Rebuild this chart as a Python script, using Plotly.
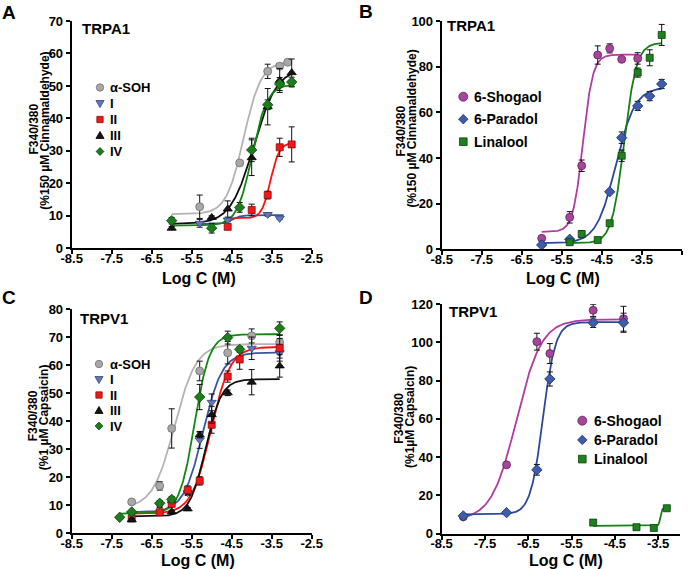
import numpy as np
import plotly.graph_objects as go

W, H = 691, 569
FONT = "Liberation Sans, Arial, sans-serif"

# ---------------- panel A : TRPA1 (alpha-SOH and I-IV)
a_names = ["α-SOH", "I", "II", "III", "IV"]
a_x = [
    [-5.3, -4.3, -3.6, -3.3, -3.1],
    [-5.3, -4.6, -3.6, -3.3],
    [-4.6, -4.0, -3.6, -3.3, -3.0],
    [-6.0, -5.0, -4.6, -4.0, -3.6, -3.3, -3.0],
    [-6.0, -5.0, -4.3, -4.0, -3.6, -3.3, -3.0],
]
a_y = [
    [12.8, 26.3, 54.5, 56.1, 57.3],
    [7.7, 8.7, 10.4, 9.2],
    [6.6, 11.8, 16.4, 31.1, 32.0],
    [6.2, 9.5, 12.1, 27.9, 43.6, 51.7, 54.1],
    [8.5, 6.2, 12.6, 30.3, 44.2, 50.6, 51.2],
]
a_err = [
    [3.6, 0.4, 2.2, 0.8, 0.4],
    [1.2, 0.5, 0.5, 0.3],
    [0.5, 1.8, 1.2, 2.8, 5.4],
    [0.5, 0.5, 2.5, 5.5, 5.6, 3.7, 4.2],
    [1.0, 1.5, 1.5, 3.6, 1.5, 2.0, 1.5],
]
# fitted sigmoid: bottom, top, logEC50, hill slope, first and last log C
a_fit = [
    [10.5, 57.5, -4.20, 2.0, -6.0, -3.1],
    [7.4, 10.2, -4.50, 4.0, -5.3, -3.2],
    [9.2, 32.5, -3.53, 4.0, -4.6, -3.0],
    [7.5, 55.5, -3.95, 1.5, -6.0, -3.0],
    [7.0, 50.5, -3.99, 2.3, -6.0, -3.0],
]

# ---------------- panel B : TRPA1 (gingerols / linalool)
b_names = ["6-Shogaol", "6-Paradol", "Linalool"]
b_x = [
    [-6.0, -5.3, -5.0, -4.6, -4.3, -4.0, -3.6],
    [-6.0, -5.3, -4.3, -4.0, -3.6, -3.3, -3.0],
    [-5.3, -5.0, -4.6, -4.3, -4.0, -3.6, -3.3, -3.0],
]
b_y = [
    [4.8, 14.0, 36.6, 85.1, 88.0, 83.2, 83.6],
    [1.9, 4.4, 25.2, 48.9, 62.8, 67.1, 72.4],
    [3.1, 6.7, 4.1, 11.4, 41.0, 77.4, 83.9, 93.9],
]
b_err = [
    [0.5, 2.5, 2.5, 4.0, 2.0, 0.5, 2.5],
    [0.3, 0.5, 0.5, 2.5, 2.0, 2.0, 2.0],
    [0.5, 1.5, 0.5, 0.8, 2.5, 2.0, 3.5, 4.6],
]
b_fit = [
    [7.6, 85.3, -4.97, 3.5, -6.0, -3.6],
    [2.7, 71.0, -4.15, 1.8, -6.0, -3.0],
    [2.7, 90.5, -3.94, 2.8, -5.3, -3.0],
]

# ---------------- panel C : TRPV1 (alpha-SOH and I-IV)
c_names = a_names
c_x = [
    [-7.0, -6.3, -6.0, -5.3, -4.6, -4.0, -3.3],
    [-7.0, -6.3, -6.0, -5.6, -5.3, -5.0, -4.0, -3.3],
    [-7.0, -6.3, -6.0, -5.6, -5.3, -5.0, -4.6, -4.3, -3.3],
    [-7.0, -6.0, -5.6, -5.3, -5.0, -4.6, -4.0, -3.3],
    [-7.3, -7.0, -6.3, -6.0, -5.3, -4.6, -4.3, -3.3],
]
c_y = [
    [11.2, 16.9, 37.4, 57.9, 64.4, 70.4, 68.1],
    [7.0, 10.2, 10.5, 14.5, 33.3, 46.7, 66.0, 64.4],
    [5.3, 7.5, 10.5, 15.4, 18.7, 38.7, 55.9, 62.0, 66.0],
    [4.8, 7.7, 8.7, 35.1, 42.3, 50.1, 53.9, 59.7],
    [5.7, 7.6, 10.7, 12.1, 48.6, 69.8, 65.6, 73.1],
]
c_err = [
    [0.5, 1.5, 7.0, 3.5, 4.0, 2.5, 2.5],
    [0.5, 1.0, 1.0, 1.0, 3.0, 3.0, 4.0, 3.0],
    [0.5, 1.0, 1.0, 1.5, 1.5, 3.0, 2.0, 3.5, 3.5],
    [0.5, 0.5, 0.5, 1.0, 3.0, 1.0, 4.5, 4.0],
    [0.3, 0.5, 1.0, 1.0, 4.5, 2.3, 1.0, 2.3],
]
c_fit = [
    [9.0, 67.5, -5.93, 1.6, -7.0, -3.3],
    [7.5, 64.5, -5.22, 1.8, -7.0, -3.3],
    [7.0, 66.5, -5.02, 1.8, -7.0, -3.3],
    [6.0, 55.0, -5.15, 2.2, -7.0, -3.3],
    [7.0, 71.0, -5.43, 2.3, -7.3, -3.3],
]

# ---------------- panel D : TRPV1 (gingerols / linalool)
d_names = b_names
d_x = [
    [-8.0, -7.0, -6.3, -6.0, -5.0, -4.3],
    [-8.0, -7.0, -6.3, -6.0, -5.0, -4.3],
    [-5.0, -4.0, -3.6, -3.3],
]
d_y = [
    [8.7, 35.9, 100.3, 94.1, 116.7, 112.3],
    [9.2, 10.9, 33.3, 80.8, 110.2, 110.2],
    [5.7, 3.3, 2.9, 13.2],
]
d_err = [
    [0.5, 0.5, 4.4, 5.2, 3.2, 6.5],
    [0.5, 0.5, 2.8, 3.7, 2.5, 5.0],
    [0.0, 0.0, 0.0, 0.0],
]
d_fit = [
    [7.0, 112.0, -6.77, 1.5, -8.0, -4.3],
    [10.0, 110.5, -6.16, 3.0, -8.0, -4.3],
    [4.0, 13.2, -3.45, 25.0, -5.0, -3.3],
]

# styles: marker symbol, fill, outline, curve colour
style_5 = [
    ("circle", "#a8a8a8", "#6e6e6e", "#b4b4b4"),
    ("triangle-down", "#6478b8", "#34457a", "#3b55a0"),
    ("square", "#f01818", "#8a0a0a", "#ff1010"),
    ("triangle-up", "#141414", "#000000", "#101010"),
    ("diamond", "#1d7d1d", "#0b400b", "#118811"),
]
style_3 = [
    ("circle", "#a5459b", "#5e2258", "#b03ca2"),
    ("diamond", "#3d5cab", "#1c2f63", "#2c4898"),
    ("square", "#1f801f", "#0b400b", "#168016"),
]


def hill(x, bottom, top, logec50, slope):
    return bottom + (top - bottom) / (1 + 10 ** ((logec50 - x) * slope))


def dom_x(l, r):
    return [l / W, r / W]


def dom_y(t, b):
    return [1 - b / H, 1 - t / H]


fig = go.Figure()

panels = [
    # axis suffix, names, x, y, err, fit, style, x px, y px, y range, dtick, x range
    ("", a_names, a_x, a_y, a_err, a_fit, style_5, (71.7, 311.7), (21, 248.3), [0, 70], 10, [-8.5, -2.5]),
    ("2", b_names, b_x, b_y, b_err, b_fit, style_3, (441.7, 681.7), (21, 249.3), [0, 100], 20, [-8.5, -2.5]),
    ("3", c_names, c_x, c_y, c_err, c_fit, style_5, (71.7, 311.7), (309, 533.3), [0, 80], 10, [-8.5, -2.5]),
    ("4", d_names, d_x, d_y, d_err, d_fit, style_3, (441.6, 679.8), (304, 533.5), [0, 120], 20, [-8.5, -3.0]),
]

xticks = [-8.5, -7.5, -6.5, -5.5, -4.5, -3.5, -2.5]
marker_size = {"circle": 8, "triangle-down": 8, "square": 7, "triangle-up": 8, "diamond": 8}

for suf, names, xs, ys, errs, fits, sty, xpx, ypx, yr, dt, xr in panels:
    xa, ya = "x" + suf, "y" + suf
    for fit, st in zip(fits, sty):
        xx = np.linspace(fit[4], fit[5], 200)
        fig.add_trace(go.Scatter(
            x=xx, y=hill(xx, *fit[:4]), mode="lines", xaxis=xa, yaxis=ya,
            line=dict(color=st[3], width=1.8), showlegend=False, hoverinfo="skip"))
    for name, px_, py_, pe, st in zip(names, xs, ys, errs, sty):
        sym, fill, edge, curve = st
        fig.add_trace(go.Scatter(
            x=px_, y=py_, mode="markers", name=name, xaxis=xa, yaxis=ya, showlegend=False,
            error_y=dict(type="data", array=pe, color="#111111", thickness=1, width=3),
            marker=dict(symbol=sym, size=marker_size[sym], color=fill,
                        line=dict(color=edge, width=0.8))))

    axis_common = dict(showline=True, linecolor="black", linewidth=2, ticks="outside",
                       ticklen=4, tickwidth=1.5, tickcolor="black", showgrid=False,
                       zeroline=False, automargin=False,
                       tickfont=dict(family=FONT, size=13, color="black", weight="bold"))
    fig.update_layout({
        "xaxis" + suf: dict(domain=dom_x(*xpx), range=xr, anchor=ya,
                            tickvals=xticks, ticktext=["%.1f" % v for v in xticks],
                            **axis_common),
        "yaxis" + suf: dict(domain=dom_y(*ypx), range=yr, anchor=xa, dtick=dt,
                            **axis_common),
    })

# x tick labels sit a little closer to the axis in the original
try:
    fig.update_xaxes(ticklabelstandoff=-7)
except ValueError:
    fig.update_xaxes(ticklen=3)

annotations = []
shapes = []


def text(s, x, y, size, angle=0, xanchor="center"):
    annotations.append(dict(text=s, x=x / W, y=1 - y / H, xref="paper", yref="paper",
                            showarrow=False, textangle=angle, xanchor=xanchor, yanchor="middle",
                            font=dict(family=FONT, size=size, color="black", weight="bold")))


def key(sym, cx, cy, r, fill, edge):
    # legend key drawn in pixel units, converted to paper fractions
    def p(dx, dy):
        return "%.5f,%.5f" % ((cx + dx) / W, 1 - (cy + dy) / H)
    base = dict(xref="paper", yref="paper", fillcolor=fill, line=dict(color=edge, width=0.8))
    if sym == "circle":
        shapes.append(dict(type="circle", x0=(cx - r) / W, x1=(cx + r) / W,
                           y0=1 - (cy + r) / H, y1=1 - (cy - r) / H, **base))
        return
    pts = {
        "square": [(-r * 0.85, -r * 0.85), (r * 0.85, -r * 0.85), (r * 0.85, r * 0.85), (-r * 0.85, r * 0.85)],
        "diamond": [(0, -r * 1.05), (r * 1.05, 0), (0, r * 1.05), (-r * 1.05, 0)],
        "triangle-up": [(0, -r * 1.1), (r * 1.1, r * 0.8), (-r * 1.1, r * 0.8)],
        "triangle-down": [(0, r * 1.1), (r * 1.1, -r * 0.8), (-r * 1.1, -r * 0.8)],
    }[sym]
    path = "M " + " L ".join(p(dx, dy) for dx, dy in pts) + " Z"
    shapes.append(dict(type="path", path=path, **base))


# legends: marker x, first row y, row step, text x, font size, marker radius
legends = [
    (a_names, style_5, 100, 87.5, 16.0, 108, 13, 3.7),
    (b_names, style_3, 463.3, 96.7, 22.5, 472, 14, 4.5),
    (c_names, style_5, 99, 364, 15.5, 108, 13, 3.7),
    (d_names, style_3, 582.3, 420.7, 19.2, 592, 14, 4.5),
]
for names, sty, mx, my, step, tx, fs, r in legends:
    for i, (name, st) in enumerate(zip(names, sty)):
        key(st[0], mx, my + i * step, r, st[1], st[2])
        text(name, tx, my + i * step, fs, xanchor="left")

# panel letters
text("A", 9, 13, 19)
text("B", 366, 12, 19)
text("C", 9, 297, 19)
text("D", 366, 297, 19)
# receptor labels
text("TRPA1", 80, 29, 15, xanchor="left")
text("TRPA1", 445, 25, 15, xanchor="left")
text("TRPV1", 78, 318, 15, xanchor="left")
text("TRPV1", 447, 311, 15, xanchor="left")
# axis titles
for xc, yc in [(199, 278), (563, 278), (198, 560), (566, 560)]:
    text("Log C (M)", xc, yc, 16)
text("F340/380", 33.5, 129, 12, -90)
text("(%150 µM Cinnamaldehyde)", 44.7, 131, 12, -90)
text("F340/380", 400.5, 131, 12, -90)
text("(%150 µM Cinnamaldehyde)", 411.5, 129, 12, -90)
text("F340/380", 33.3, 416, 12, -90)
text("(%1 µM Capsaicin)", 44.2, 417, 12, -90)
text("F340/380", 398.7, 418, 12, -90)
text("(%1µM Capsaicin)", 410, 417, 12, -90)

fig.update_layout(
    width=W, height=H, margin=dict(l=0, r=0, t=0, b=0, autoexpand=False),
    paper_bgcolor="white", plot_bgcolor="white",
    font=dict(family=FONT, color="black"),
    showlegend=False,
    annotations=annotations,
    shapes=shapes,
)

# the page body has a default 8px margin; drop it so the figure fills the window
fig.write_html("out.html", config={"displayModeBar": False},
               post_script="document.body.style.margin='0px';")
